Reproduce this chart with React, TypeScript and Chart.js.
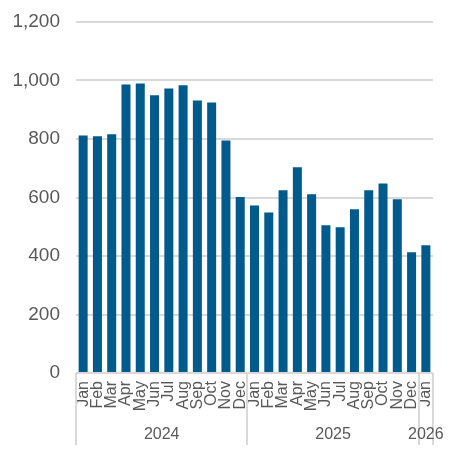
import { useEffect, useRef } from 'react'
import { Chart, registerables } from 'chart.js'

Chart.register(...registerables)

const months = [
  'Jan', 'Feb', 'Mar', 'Apr', 'May', 'Jun', 'Jul', 'Aug', 'Sep', 'Oct', 'Nov', 'Dec',
  'Jan', 'Feb', 'Mar', 'Apr', 'May', 'Jun', 'Jul', 'Aug', 'Sep', 'Oct', 'Nov', 'Dec',
  'Jan'
]
const values = [
  812, 809, 816, 986, 990, 950, 973, 984, 932, 925, 795, 602,
  573, 549, 625, 703, 611, 505, 498, 560, 625, 648, 594, 413,
  437
]
const years = ['2024', '2025', '2026']
const monthsPerYear = [12, 12, 1]

const TEXT = '#595959'
const GRID = '#d9d9d9'
const FONT = '"Liberation Sans", Arial, sans-serif'

// year row under the month labels, with separators between the years
const yearGroups = {
  id: 'yearGroups',
  afterDraw(chart: Chart) {
    const x = chart.scales.x
    const ctx = chart.ctx
    const step = (x.right - x.left) / months.length
    const top = chart.chartArea.bottom
    ctx.save()
    ctx.strokeStyle = GRID
    ctx.lineWidth = 2
    let start = 0
    const edges = [0]
    monthsPerYear.forEach((n) => {
      start += n
      edges.push(start)
    })
    edges.forEach((e) => {
      const px = Math.round(x.left + e * step)
      ctx.beginPath()
      ctx.moveTo(px, top)
      ctx.lineTo(px, top + 72)
      ctx.stroke()
    })
    ctx.fillStyle = TEXT
    ctx.font = '16px ' + FONT
    ctx.textAlign = 'center'
    ctx.textBaseline = 'middle'
    years.forEach((yr, i) => {
      const x0 = x.left + edges[i] * step
      const x1 = x.left + edges[i + 1] * step
      ctx.fillText(yr, (x0 + x1) / 2, top + 62)
    })
    ctx.restore()
  }
}

export default function App() {
  const canvasRef = useRef<HTMLCanvasElement>(null)
  const chartRef = useRef<Chart | null>(null)

  useEffect(() => {
    if (!canvasRef.current) return
    const ctx = canvasRef.current.getContext('2d')
    if (!ctx) return

    chartRef.current = new Chart(ctx, {
      type: 'bar',
      data: {
        labels: months,
        datasets: [
          {
            data: values,
            backgroundColor: '#005a8c',
            categoryPercentage: 1,
            barPercentage: 0.63
          }
        ]
      },
      options: {
        responsive: true,
        maintainAspectRatio: false,
        animation: false,
        layout: { padding: { top: 22, right: 23, left: 0, bottom: 0 } },
        scales: {
          x: {
            grid: { display: false, drawTicks: false },
            border: { display: false },
            ticks: {
              color: TEXT,
              maxRotation: 90,
              minRotation: 90,
              autoSkip: false,
              padding: 8,
              font: { size: 16, family: FONT }
            },
            afterFit: (scale) => {
              scale.height = 84
              scale.paddingLeft = 0
              scale.paddingRight = 0
            }
          },
          y: {
            min: 0,
            max: 1200,
            grid: { color: GRID, lineWidth: 2, drawTicks: false },
            border: { display: false },
            ticks: {
              stepSize: 200,
              color: TEXT,
              padding: 16,
              font: { size: 19, family: FONT },
              callback: (val) => Number(val).toLocaleString('en-US')
            },
            afterFit: (scale) => {
              scale.width = 76
              scale.paddingTop = 0
              scale.paddingBottom = 0
            }
          }
        },
        plugins: {
          legend: { display: false },
          tooltip: { enabled: false }
        }
      },
      plugins: [yearGroups]
    })

    return () => {
      if (chartRef.current) chartRef.current.destroy()
    }
  }, [])

  return (
    <div style={{ position: 'fixed', left: 0, top: 0, width: '456px', height: '457px', background: '#fff' }}>
      <canvas ref={canvasRef}></canvas>
    </div>
  )
}
